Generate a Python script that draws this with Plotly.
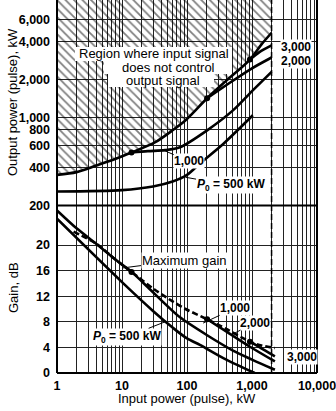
import math
import plotly.graph_objects as go

# ---------------- data ----------------
# Top panel: output power (kW) vs input power (kW)
bound_in = [1, 2, 4, 8, 14, 32, 60, 95, 204, 400, 930, 1400, 2000]
bound_out = [350, 368, 415, 470, 527, 633, 790, 950, 1420, 1950, 2880, 3800, 4700]

p1000_in = [14, 25, 46, 78, 204, 510, 1000, 2000]
p1000_out = [527, 540, 550, 580, 790, 1137, 1615, 2300]

p2000_in = [204, 400, 930, 2000]
p2000_out = [1420, 1800, 2400, 2990]

p3000_in = [930, 1300, 2000]
p3000_out = [2880, 3300, 3730]

p500_in = [1, 10, 30, 60, 100, 158, 368, 1030]
p500_out = [258, 265, 283, 310, 350, 431, 622, 1040]

branch_in = [14, 204, 930]
branch_out = [527, 1420, 2880]

# Bottom panel: gain (dB) vs input power (kW)
gmax_in = [1.8, 4, 8, 14, 32, 60, 95, 204, 400, 930, 1400, 2250]
gmax_db = [22.1, 20.2, 17.7, 15.8, 13.0, 11.2, 10.0, 8.4, 6.9, 4.9, 4.3, 3.9]

g1000_in = [1, 2, 4, 8, 14, 25, 46, 78, 204, 510, 1000, 2250]
g1000_db = [25.4, 22.6, 20.2, 17.7, 15.8, 13.4, 10.8, 8.7, 5.9, 3.5, 2.1, 0.5]

g2000_in = [204, 400, 930, 2250]
g2000_db = [8.4, 6.5, 4.1, 1.8]

g3000_in = [930, 1300, 2250]
g3000_db = [4.9, 4.05, 2.6]

g500_in = [1, 10, 30, 60, 100, 158, 368, 1100]
g500_db = [24.1, 14.2, 9.7, 7.1, 5.4, 4.4, 2.3, 0.0]

gbranch_in = [14, 204, 930]
gbranch_db = [15.8, 8.4, 4.9]

x_major = [1, 10, 100, 1000, 10000]
x_major_text = ["1", "10", "100", "1,000", "10,000"]
y_top_ticks = [200, 400, 600, 800, 1000, 2000, 4000, 6000]
y_top_text = ["200", "400", "600", "800", "1,000", "2,000", "4,000", "6,000"]
y_bot_ticks = [0, 4, 8, 12, 16, 20]
y_bot_text = ["0", "4", "8", "12", "16", "20"]

dashed_limit = 2000  # kW, vertical dashed line

# ---------------- figure ----------------
W, H = 336, 411
L, R, T, B = 57, 19, 0, 38
PW, PH = W - L - R, H - T - B
split = 167.5 / PH

FONT = "Liberation Sans"
black = "black"

x_minor = [m * 10 ** k for k in range(4) for m in range(2, 10)]

fig = go.Figure()

LW = 2.6
top = dict(xaxis="x2", yaxis="y2")
bot = dict(xaxis="x", yaxis="y")

# hatched region
fig.add_trace(go.Scatter(
    x=bound_in + [bound_in[-1], bound_in[0]],
    y=bound_out + [20000, 20000],
    fill="toself", mode="lines", line=dict(width=0),
    fillcolor="rgba(0,0,0,0)",
    fillpattern=dict(shape="\\", fgcolor=black, bgcolor="rgba(0,0,0,0)", size=6, solidity=0.3),
    hoverinfo="skip", **top))

for xs, ys in [(bound_in, bound_out), (p1000_in, p1000_out), (p2000_in, p2000_out),
               (p3000_in, p3000_out), (p500_in, p500_out)]:
    fig.add_trace(go.Scatter(x=xs, y=ys, mode="lines",
                             line=dict(color=black, width=LW, shape="spline", smoothing=0.8), **top))
fig.add_trace(go.Scatter(x=branch_in, y=branch_out, mode="markers",
                         marker=dict(color=black, size=6), **top))

fig.add_trace(go.Scatter(x=gmax_in, y=gmax_db, mode="lines",
                         line=dict(color=black, width=LW, dash="6px,3px", shape="spline", smoothing=0.8), **bot))
for xs, ys in [(g1000_in, g1000_db), (g2000_in, g2000_db), (g3000_in, g3000_db), (g500_in, g500_db)]:
    fig.add_trace(go.Scatter(x=xs, y=ys, mode="lines",
                             line=dict(color=black, width=LW, shape="spline", smoothing=0.8), **bot))
fig.add_trace(go.Scatter(x=gbranch_in, y=gbranch_db, mode="markers",
                         marker=dict(color=black, size=6), **bot))

tickfont = dict(family=FONT, size=12.5, color=black, weight="bold")
gridc = "#222"
minor = dict(tickvals=x_minor, showgrid=True, gridcolor=gridc, gridwidth=1, ticks="")

fig.update_layout(
    width=W, height=H, margin=dict(l=L, r=R, t=T, b=B),
    paper_bgcolor="white", plot_bgcolor="white", showlegend=False,
    xaxis=dict(type="log", range=[0, 4], domain=[0, 1], anchor="y",
               tickvals=x_major, ticktext=x_major_text, tickfont=tickfont, tickangle=0,
               ticklabelstandoff=3, ticklabeloverflow="allow",
               showgrid=True, gridcolor=gridc, gridwidth=1,
               zeroline=False, showline=False, ticks="", minor=minor),
    xaxis2=dict(type="log", range=[0, 4], domain=[0, 1], anchor="y2", matches="x",
                tickvals=x_major, showticklabels=False, showgrid=True, gridcolor=gridc,
                gridwidth=1, zeroline=False, showline=False, ticks="", minor=minor),
    yaxis=dict(range=[0, 167.5 / 6.4], domain=[0, split], anchor="x",
               tickvals=y_bot_ticks, ticktext=y_bot_text, tickfont=tickfont,
               ticklabelstandoff=6, showgrid=True, gridcolor=gridc, gridwidth=1,
               zeroline=False, showline=False, ticks=""),
    yaxis2=dict(type="log", range=[2.3010, 2.3010 + 205.5 / 126], domain=[split, 1], anchor="x2",
                tickvals=y_top_ticks, ticktext=y_top_text, tickfont=tickfont,
                ticklabelstandoff=6, showgrid=True, gridcolor=gridc, gridwidth=1,
                zeroline=False, showline=False, ticks=""),
)


def px(xp, yp):
    return (xp - L) / PW, (H - B - yp) / PH


# frame, separator, dashed limit
for (x0, x1, y0, y1) in [(0, 0, 0, 1), (1, 1, 0, 1), (0, 1, 0, 0), (0, 1, split, split)]:
    fig.add_shape(type="line", xref="paper", yref="paper", x0=x0, x1=x1, y0=y0, y1=y1,
                  line=dict(color=black, width=2))
fig.add_shape(type="line", xref="x", yref="paper", x0=dashed_limit, x1=dashed_limit, y0=0, y1=1,
              line=dict(color=black, width=1.5, dash="6px,3px"))

# white box behind the region text
box = [(75, 47), (232, 47), (232, 74), (214, 74), (214, 87), (108, 87), (108, 74),
       (104, 74), (104, 61), (75, 61)]
path = "M " + " L ".join("%.4f,%.4f" % px(a, b) for a, b in box) + " Z"
fig.add_shape(type="path", path=path, xref="paper", yref="paper", layer="above",
              fillcolor="white", line=dict(width=0))


def text(s, xp, yp, size=12.5, bold=False, bg=None, angle=0):
    x, y = px(xp, yp)
    fig.add_annotation(x=x, y=y, xref="paper", yref="paper", text=s, showarrow=False,
                       xanchor="center", yanchor="middle", textangle=angle,
                       font=dict(family=FONT, size=size, color=black, weight="bold" if bold else "normal"),
                       bgcolor=bg, borderpad=0)


def leader(s, xr, yr, tipx, tipy, ax, ay, bold=True, size=12):
    fig.add_annotation(x=tipx, y=tipy, xref=xr, yref=yr, text=s, showarrow=True,
                       arrowhead=0, arrowwidth=1, arrowcolor=black, ax=ax, ay=ay,
                       font=dict(family=FONT, size=size, color=black, weight="bold" if bold else "normal"),
                       bgcolor="white", borderpad=0)


# axis titles
text("Output power (pulse), kW", 13, 102, size=13, angle=-90)
text("Gain, dB", 13, 288, size=13, angle=-90)
text("Input power (pulse), kW", 187, 398, size=13)

# region annotation
text("Region where input signal", 154, 54, size=13)
text("does not control", 168, 67, size=13)
text("output signal", 163, 80, size=13)

# curve labels, top
text("3,000", 296, 47, size=12, bold=True, bg="white")
text("2,000", 296, 61, size=12, bold=True, bg="white")
leader("1,000", "x2", "y2", math.log10(43), math.log10(550), 26, 11)
leader("<i>P</i><sub>0</sub> = 500 kW", "x2", "y2", math.log10(95), math.log10(335), 45, 8)

# curve labels, bottom
leader("Maximum gain", "x", "y", math.log10(10), 16.4, 62, -8, bold=False, size=13)
leader("1,000", "x", "y", math.log10(177), 7.8, 32, -15)
leader("2,000", "x", "y", math.log10(490), 6.0, 23, -12)
text("3,000", 302, 357, size=12, bold=True, bg="white")
leader("<i>P</i><sub>0</sub> = 500 kW", "x", "y", math.log10(46), 8.0, -38, 15)

fig.write_html("out.html")
